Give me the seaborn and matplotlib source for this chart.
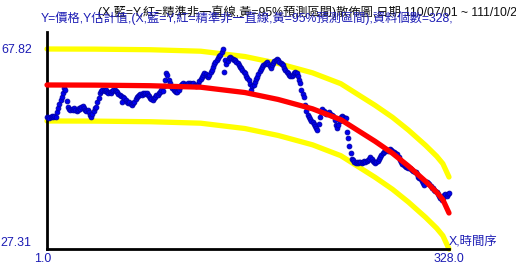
import numpy as np
import pandas as pd
import matplotlib
matplotlib.use("Agg")
import matplotlib.pyplot as plt
import matplotlib.transforms as mtrans
import seaborn as sns

# ---- data ----
price = [
    54.0, 54.1, 53.9, 54.0, 54.2, 54.1, 54.3, 54.0,
    55.0, 55.9, 56.6, 57.5, 58.0, 59.0, 59.9, 59.6,
    57.2, 56.1, 55.6, 55.4,
    55.7, 55.5, 55.9, 55.5, 55.2, 55.5, 55.9, 55.7, 56.1, 56.3, 55.9, 55.5, 55.2, 55.5, 55.0, 54.5, 54.1,
    54.6, 55.3, 55.9, 56.1, 57.0, 57.9, 58.9,
    59.3, 59.5, 59.6, 59.4, 59.5, 59.2, 59.0, 59.1, 58.9, 59.3, 59.5, 59.6, 59.3, 59.1,
    58.8, 58.5, 58.3, 57.1, 58.0, 57.8, 57.4, 57.1, 56.9, 57.0, 56.7, 56.5, 56.8,
    57.1, 57.6, 58.1, 58.3, 58.5, 58.7, 58.6, 58.9, 58.8, 59.0, 58.9,
    58.5, 58.2, 57.9, 57.6, 57.5, 57.8,
    58.1, 58.4, 58.6, 58.9, 59.2, 59.5, 59.4,
    60.4, 61.5, 62.9, 62.6, 61.6,
    61.0, 60.3, 59.9, 59.5, 59.3, 59.1, 59.2,
    59.6, 60.1, 60.5, 60.8, 60.9, 60.7, 60.5, 60.6, 60.9, 61.0, 60.8, 60.7, 60.9, 60.6, 60.4, 60.5, 60.8, 61.3,
    61.8, 62.2, 62.6, 63.0, 62.7, 62.3, 62.1, 62.5, 63.1, 63.5, 64.2,
    64.7, 65.1, 65.6, 66.0, 66.3, 66.6, 67.2, 67.9, 63.2,
    65.6, 64.8, 65.3, 65.9, 66.1, 65.9, 65.7, 65.6, 65.5, 65.2, 65.0,
    64.6, 64.2, 63.9, 63.6, 63.2, 62.9, 62.4, 61.9, 61.5, 60.7,
    59.6, 60.3,
    60.6, 61.2, 61.7, 62.2, 62.8, 63.3, 63.7, 64.1, 64.5, 64.8, 65.0, 65.1, 64.7, 64.3, 64.0, 64.5, 65.0,
    65.3, 65.5, 65.7, 65.6, 65.2, 65.0, 64.7, 64.6,
    64.0, 63.6, 63.2, 62.9, 62.6, 62.4, 62.3, 62.6, 63.0, 63.2, 62.9, 62.3,
    61.6, 61.0, 59.6, 58.8, 58.1, 56.5, 55.2, 54.4, 54.0, 53.6, 53.2, 53.0, 52.7, 52.2,
    51.8, 51.5, 52.7, 54.0, 55.1,
    55.6, 55.2, 54.9, 54.6, 54.8, 55.0, 54.7, 54.4, 54.5, 54.2,
    53.4, 52.5, 51.8, 52.4, 53.3, 54.0,
    54.2, 54.0, 53.9, 53.8,
    51.0, 49.8, 48.2, 46.8, 45.5, 45.3,
    45.0, 44.8, 44.9, 44.7, 44.9, 45.0, 44.8, 44.9, 45.1, 45.0, 45.2, 45.4, 45.6, 45.9, 45.5, 45.1, 44.9, 44.8, 44.9, 45.2, 45.5, 45.9,
    46.3, 46.7, 47.0, 47.3, 47.4, 47.2, 47.3, 47.5, 47.3,
    47.1, 47.0, 46.8, 46.6, 46.5, 46.0, 45.4, 44.9, 44.6,
    44.4, 44.2, 44.0, 43.9, 43.7, 43.8, 43.5, 43.3, 43.2, 42.9, 43.0, 42.5, 41.9,
    41.6, 41.4, 41.0, 40.6, 40.3, 40.8, 40.9, 40.7, 40.5, 40.0, 39.7, 39.6, 39.3,
    39.0, 38.8, 38.5, 38.0, 37.6, 37.3, 37.6, 38.2, 38.4, 38.1, 38.5, 38.6,
]

fit_x = [1, 40, 85, 126, 162, 189, 217, 240, 268, 282, 295, 309, 318, 323, 328]
fit_y = [60.53, 60.50, 60.38, 60.08, 59.0, 57.6, 55.7, 53.5, 49.1, 46.7, 44.1, 41.0, 38.8, 37.3, 34.6]
band_half = 7.29

x_tick_vals = [1, 328]
x_tick_labels = ["1.0", "328.0"]
y_tick_vals = [27.31, 67.82]
y_tick_labels = ["27.31", "67.82"]

title1 = "(X,藍=Y,紅=精準非一直線,黃=95%預測區間)散佈圖,日期 110/07/01 ~ 111/10/28"
title2 = "Y=價格,Y估計值,(X,藍=Y,紅=精準非一直線,黃=95%預測區間),資料個數=328,"
x_label = "X,時間序"

# ---- frames ----
df = pd.DataFrame({"t": np.arange(1, len(price) + 1), "price": price})
fit_df = pd.DataFrame({"t": fit_x, "fit": fit_y})
fit_df["upper"] = fit_df["fit"] + band_half
fit_df["lower"] = fit_df["fit"] - band_half

sns.set_style("white")
plt.rcParams["font.family"] = ["Liberation Sans", "Noto Sans CJK TC", "DejaVu Sans"]

fig = plt.figure(figsize=(5.16, 2.73), dpi=100)
ax = fig.add_axes([47 / 516, 24 / 273, 402 / 516, 217 / 273])

blue_txt = "#1c1cb4"
for col in ["upper", "lower"]:
    sns.lineplot(data=fit_df, x="t", y=col, ax=ax, color="#ffff00", lw=3.8,
                 solid_capstyle="round", zorder=2, clip_on=False)
sns.scatterplot(data=df, x="t", y="price", ax=ax, s=12, color="#0000f0",
                edgecolor="#0000a8", linewidth=0.6, zorder=3, clip_on=False)
sns.lineplot(data=fit_df, x="t", y="fit", ax=ax, color="#ff0000", lw=3.8,
             solid_capstyle="round", zorder=4, clip_on=False)

ax.set_xlim(1, 328)
ax.set_ylim(27.31, 71.26)
ax.set_xticks(x_tick_vals)
ax.set_xticklabels(x_tick_labels)
ax.set_yticks(y_tick_vals)
ax.set_yticklabels(y_tick_labels)
ax.tick_params(axis="both", length=0, labelsize=8.9, labelcolor=blue_txt)
ax.tick_params(axis="y", pad=11)
ax.tick_params(axis="x", pad=3)
ax.get_yticklabels()[0].set_va("bottom")
first_x = ax.get_xticklabels()[0]
first_x.set_transform(first_x.get_transform() +
                      mtrans.ScaledTranslation(-4 / 100, 0, fig.dpi_scale_trans))
ax.set_xlabel("")
ax.set_ylabel("")
for s in ["top", "right"]:
    ax.spines[s].set_visible(False)
for s in ["left", "bottom"]:
    ax.spines[s].set_color("black")
    ax.spines[s].set_linewidth(2.0)
ax.patch.set_alpha(0)

ax.annotate(x_label, xy=(1, 0), xycoords="axes fraction", xytext=(0, 1),
            textcoords="offset points", ha="left", va="bottom",
            fontsize=8.9, color=blue_txt, family=["Liberation Sans", "Noto Sans CJK TC"])

fig.text(98 / 516, 1 - 12 / 273, title1, ha="left", va="center", fontsize=8.8,
         color="#101010", family=["Liberation Sans", "Noto Sans CJK TC"])
fig.text(41 / 516, 1 - 18 / 273, title2, ha="left", va="center", fontsize=8.8,
         color=blue_txt, family=["Liberation Sans", "Noto Sans CJK TC"])

fig.savefig("out.png", dpi=100, facecolor="white")
